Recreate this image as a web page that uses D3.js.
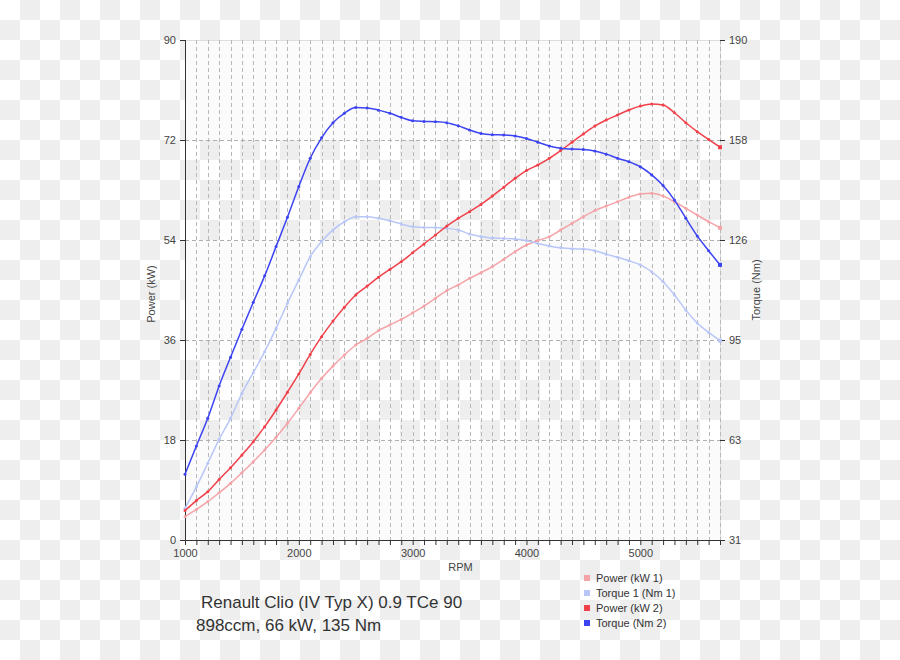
<!DOCTYPE html>
<html>
<head>
<meta charset="utf-8">
<script src="https://cdn.jsdelivr.net/npm/d3@7"></script>
<style>
  html, body { margin: 0; padding: 0; background: #fff; }
  svg { display: block; font-family: "Liberation Sans", Arial, sans-serif; }
</style>
</head>
<body>
<svg id="chart" width="900" height="660"></svg>
<script>
// ---------- DATA ----------
const rpm = d3.range(1000, 5701, 100);

const power1 = [4.2, 5.5, 6.9, 8.5, 10.2, 12.1, 14.1, 16.2, 18.5, 21.0,
  23.7, 26.5, 29.1, 31.3, 33.3, 35.1, 36.3, 37.7, 38.7, 39.7,
  40.9, 42.1, 43.5, 44.9, 45.9, 47.1, 48.1, 49.2, 50.5, 51.9,
  53.1, 53.9, 54.6, 55.8, 57.0, 58.2, 59.3, 60.1, 60.9, 61.7,
  62.3, 62.4, 61.9, 60.9, 59.7, 58.5, 57.3, 56.2];

const torque1 = [41.1, 47.9, 55.4, 63.0, 69.7, 77.6, 84.2, 90.9, 98.3, 106.3,
  113.7, 121.1, 125.9, 129.6, 132.2, 133.8, 133.8, 133.3, 132.5, 131.5,
  130.6, 130.4, 130.4, 130.1, 129.6, 128.3, 127.5, 127.0, 126.9, 126.7,
  126.2, 125.3, 124.5, 123.9, 123.6, 123.5, 123.0, 121.9, 120.9, 119.8,
  118.5, 116.3, 113.1, 108.9, 104.1, 100.0, 97.0, 94.4];

const power2 = [5.3, 7.1, 8.7, 10.9, 13.0, 15.3, 17.7, 20.4, 23.4, 26.6,
  29.9, 33.4, 36.6, 39.4, 41.9, 44.1, 45.7, 47.3, 48.7, 50.1,
  51.7, 53.3, 54.9, 56.5, 57.9, 59.1, 60.4, 61.9, 63.5, 65.1,
  66.5, 67.5, 68.7, 70.1, 71.6, 73.1, 74.5, 75.6, 76.5, 77.4,
  78.1, 78.5, 78.3, 76.9, 75.1, 73.5, 72.1, 70.7];

const torque2 = [51.9, 60.9, 69.7, 80.0, 89.1, 98.0, 106.6, 115.0, 124.3, 133.6,
  143.4, 152.4, 158.9, 163.7, 166.7, 168.5, 168.4, 167.7, 166.7, 165.4,
  164.3, 164.1, 164.0, 163.7, 162.7, 161.4, 160.3, 159.9, 159.8, 159.5,
  158.7, 157.5, 156.3, 155.6, 155.3, 155.2, 154.7, 153.7, 152.4, 151.3,
  149.7, 147.1, 143.7, 139.1, 133.3, 127.7, 123.0, 118.5];

const leftTicks = [0, 18, 36, 54, 72, 90];
const rightTicks = [31, 62.8, 94.6, 126.4, 158.2, 190];
const xLabelTicks = [1000, 2000, 3000, 4000, 5000];

const seriesNames = ["Power (kW 1)", "Torque 1 (Nm 1)", "Power (kW 2)", "Torque (Nm 2)"];
const seriesColors = ["#f5a3a7", "#b8c7f7", "#f2404a", "#3c43f3"];
const titleLines = ["Renault Clio (IV Typ X) 0.9 TCe 90", "898ccm, 66 kW, 135 Nm"];

// ---------- LAYOUT ----------
const svg = d3.select("#chart");
const L = 185, R = 720, T = 40, B = 540;

const x = d3.scaleLinear().domain([1000, 5700]).range([L, R]);
const yL = d3.scaleLinear().domain([0, 90]).range([B, T]);
const yR = d3.scaleLinear().domain([31, 190]).range([B, T]);

// checkerboard background
const defs = svg.append("defs");
const pat = defs.append("pattern").attr("id", "checker")
  .attr("patternUnits", "userSpaceOnUse").attr("width", 40).attr("height", 40);
pat.append("rect").attr("width", 40).attr("height", 40).attr("fill", "#ffffff");
pat.append("rect").attr("x", 20).attr("y", 0).attr("width", 20).attr("height", 20).attr("fill", "#eeeeee");
pat.append("rect").attr("x", 0).attr("y", 20).attr("width", 20).attr("height", 20).attr("fill", "#eeeeee");
svg.append("rect").attr("width", 900).attr("height", 660).attr("fill", "url(#checker)");

// opaque plot bands
const bands = [[72, 90], [36, 54], [0, 18]];
svg.append("g").selectAll("rect").data(bands).join("rect")
  .attr("x", L).attr("width", R - L + 1)
  .attr("y", d => yL(d[1])).attr("height", d => yL(d[0]) - yL(d[1]))
  .attr("fill", "#fbfbfb");

// plot border (top, right)
svg.append("line").attr("x1", L).attr("x2", R + 1).attr("y1", T + 0.5).attr("y2", T + 0.5)
  .attr("stroke", "#dddddd");
svg.append("line").attr("x1", R + 0.5).attr("x2", R + 0.5).attr("y1", T).attr("y2", B)
  .attr("stroke", "#dddddd");

// vertical dashed grid every 100 rpm
const gridX = rpm.filter(r => r > 1000);
svg.append("g").selectAll("line").data(gridX).join("line")
  .attr("x1", d => Math.round(x(d)) + 0.5).attr("x2", d => Math.round(x(d)) + 0.5)
  .attr("y1", T).attr("y2", B)
  .attr("stroke", "#b8b8b8").attr("stroke-dasharray", "4,3");

// horizontal dashed grid
svg.append("g").selectAll("line").data(leftTicks.filter(v => v > 0 && v < 90)).join("line")
  .attr("x1", L).attr("x2", R)
  .attr("y1", d => Math.round(yL(d)) + 0.5).attr("y2", d => Math.round(yL(d)) + 0.5)
  .attr("stroke", "#b0b0b0").attr("stroke-dasharray", "4,3");

// axes
const axisColor = "#333333";
const txtColor = "#444444";

const leftAxis = svg.append("g").attr("transform", `translate(${L},0)`)
  .call(d3.axisLeft(yL).tickValues(leftTicks).tickSize(5).tickPadding(4).tickFormat(d3.format("d")));
leftAxis.select(".domain").attr("stroke", axisColor).attr("d", `M0.5,${T}V${B}`);

const rightAxis = svg.append("g").attr("transform", `translate(${R},0)`)
  .call(d3.axisRight(yR).tickValues(rightTicks).tickSize(5).tickPadding(4).tickFormat(d => Math.round(d)));
rightAxis.select(".domain").remove();

const bottomAxis = svg.append("g").attr("transform", `translate(0,${B})`)
  .call(d3.axisBottom(x).tickValues(rpm).tickSize(5).tickPadding(4)
    .tickFormat(d => xLabelTicks.includes(d) ? d : ""));
bottomAxis.select(".domain").attr("stroke", axisColor).attr("d", `M${L},0.5H${R + 2}`);

[leftAxis, rightAxis, bottomAxis].forEach(g => {
  g.selectAll(".tick line").attr("stroke", axisColor);
  g.selectAll(".tick text").attr("fill", txtColor).attr("font-size", 11)
    .attr("font-family", "'Liberation Sans', Arial, sans-serif");
});

// axis titles
svg.append("text").attr("x", L + (R - L) / 2 + 8).attr("y", 571)
  .attr("text-anchor", "middle").attr("font-size", 11).attr("fill", txtColor).text("RPM");
svg.append("text").attr("transform", `translate(155,294) rotate(-90)`)
  .attr("text-anchor", "middle").attr("font-size", 11).attr("fill", txtColor).text("Power (kW)");
svg.append("text").attr("transform", `translate(760,290) rotate(-90)`)
  .attr("text-anchor", "middle").attr("font-size", 11).attr("fill", txtColor).text("Torque (Nm)");

// series
const series = [
  { vals: power1, y: yL, color: seriesColors[0] },
  { vals: torque1, y: yR, color: seriesColors[1] },
  { vals: power2, y: yL, color: seriesColors[2] },
  { vals: torque2, y: yR, color: seriesColors[3] }
];

series.forEach(s => {
  const pts = rpm.map((r, i) => [r, s.vals[i]]);
  const line = d3.line().x(d => x(d[0])).y(d => s.y(d[1])).curve(d3.curveMonotoneX);
  const g = svg.append("g");
  g.append("path").attr("d", line(pts)).attr("fill", "none")
    .attr("stroke", s.color).attr("stroke-width", 1.5);
  g.selectAll("circle").data(pts).join("circle")
    .attr("cx", d => x(d[0])).attr("cy", d => s.y(d[1])).attr("r", 1.5)
    .attr("fill", s.color);
});

// end markers
series.forEach(s => {
  const last = s.vals.length - 1;
  svg.append("rect").attr("x", x(rpm[last]) - 2).attr("y", s.y(s.vals[last]) - 2)
    .attr("width", 4).attr("height", 4).attr("fill", s.color);
});

// title
svg.append("text").attr("x", 201).attr("y", 608).attr("font-size", 17).attr("fill", "#333")
  .text(titleLines[0]);
svg.append("text").attr("x", 196).attr("y", 631).attr("font-size", 17).attr("fill", "#333")
  .text(titleLines[1]);

// legend
const leg = svg.append("g").attr("transform", "translate(584,578)");
const items = leg.selectAll("g").data(seriesNames).join("g")
  .attr("transform", (d, i) => `translate(0,${i * 15})`);
items.append("rect").attr("x", 0).attr("y", -3).attr("width", 6).attr("height", 6)
  .attr("fill", (d, i) => seriesColors[i]);
items.append("text").attr("x", 12).attr("y", 4).attr("font-size", 11).attr("fill", "#333")
  .text(d => d);
</script>
</body>
</html>
